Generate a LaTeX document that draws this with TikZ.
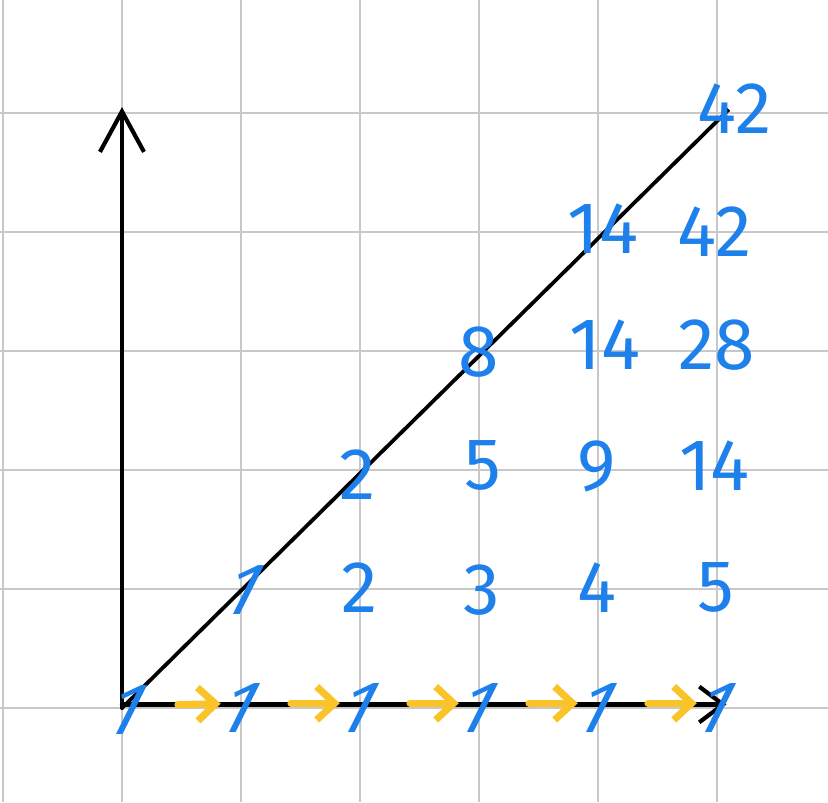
\documentclass[tikz,border=0pt]{standalone}
\usepackage{fontspec}
\setmainfont{Fira Sans}
\usepackage{xcolor}
\usepackage{tikz}
\usetikzlibrary{arrows.meta, positioning}

\definecolor{inkblue}{RGB}{30,128,235}
\definecolor{inkyellow}{RGB}{250,195,40}
\definecolor{gridgray}{RGB}{200,200,200}

\begin{document}
\begin{tikzpicture}[
    num/.style={text=inkblue, font=\fontsize{17.5}{17.5}\selectfont, inner sep=1pt},
    one/.style={num, xslant=0.5},
    gridline/.style={draw=gridgray, line width=0.5pt},
    axis/.style={line width=1pt, line cap=round},
    yarrow/.style={draw=inkyellow, line width=1.7pt, line cap=round, -{Straight Barb[length=1.5mm, width=2.8mm]}, shorten <=0.42cm, shorten >=0.17cm}
]

\useasboundingbox (-1.025,-0.79) rectangle (5.933,5.95);
\fill[white] (-1.025,-0.79) rectangle (5.933,5.95);
\draw[gridline] (-1.025,-0.79) grid (5.933,5.95);

% axes and diagonal
\coordinate (origin) at (0,0);
\coordinate (ytop) at (0,5.05);
\coordinate (xend) at (5.08,0.03);
\coordinate (dend) at (5.1,5.03);
\draw[axis, -{Straight Barb[length=3.4mm, width=3.7mm]}] (origin) -- (ytop);
\draw[axis, -{Straight Barb[length=2mm, width=3mm]}] (0,0.03) -- (xend);
\draw[line width=0.9pt] (origin) -- (dend);

% bottom row
\node (c00) [one] at (0.05,-0.02) {1};
\node (c01) [one] at (1,0) {1};
\node (c02) [one] at (2,0) {1};
\node (c03) [one] at (3,0) {1};
\node (c04) [one] at (4,0) {1};
\node (c05) [one] at (5,0) {1};

% row 1
\node (c11) [one] at (1.03,0.99) {1};
\node (c12) [num] at (2,1.01) {2};
\node (c13) [num] at (3.02,0.99) {3};
\node (c14) [num] at (3.99,1.01) {4};
\node (c15) [num] at (4.99,1.01) {5};

% row 2
\node (c22) [num] at (1.98,1.96) {2};
\node (c23) [num] at (3.03,2.04) {5};
\node (c24) [num] at (3.99,2.03) {9};
\node (c25) [num] at (4.98,2.04) {14};

% row 3
\node (c33) [num] at (3,2.99) {8};
\node (c34) [num] at (4.06,3.05) {14};
\node (c35) [num] at (5,3.05) {28};

% row 4
\node (c44) [num] at (4.04,4.03) {14};
\node (c45) [num] at (4.98,4) {42};

% row 5
\node (c55) [num] at (5.15,5.04) {42};

\draw[yarrow] ([yshift=0.04cm]c00.center) -- ([yshift=0.04cm]c01.center);
\draw[yarrow] ([yshift=0.04cm]c01.center) -- ([yshift=0.04cm]c02.center);
\draw[yarrow] ([yshift=0.04cm]c02.center) -- ([yshift=0.04cm]c03.center);
\draw[yarrow] ([yshift=0.04cm]c03.center) -- ([yshift=0.04cm]c04.center);
\draw[yarrow] ([yshift=0.04cm]c04.center) -- ([yshift=0.04cm]c05.center);

\end{tikzpicture}
\end{document}
